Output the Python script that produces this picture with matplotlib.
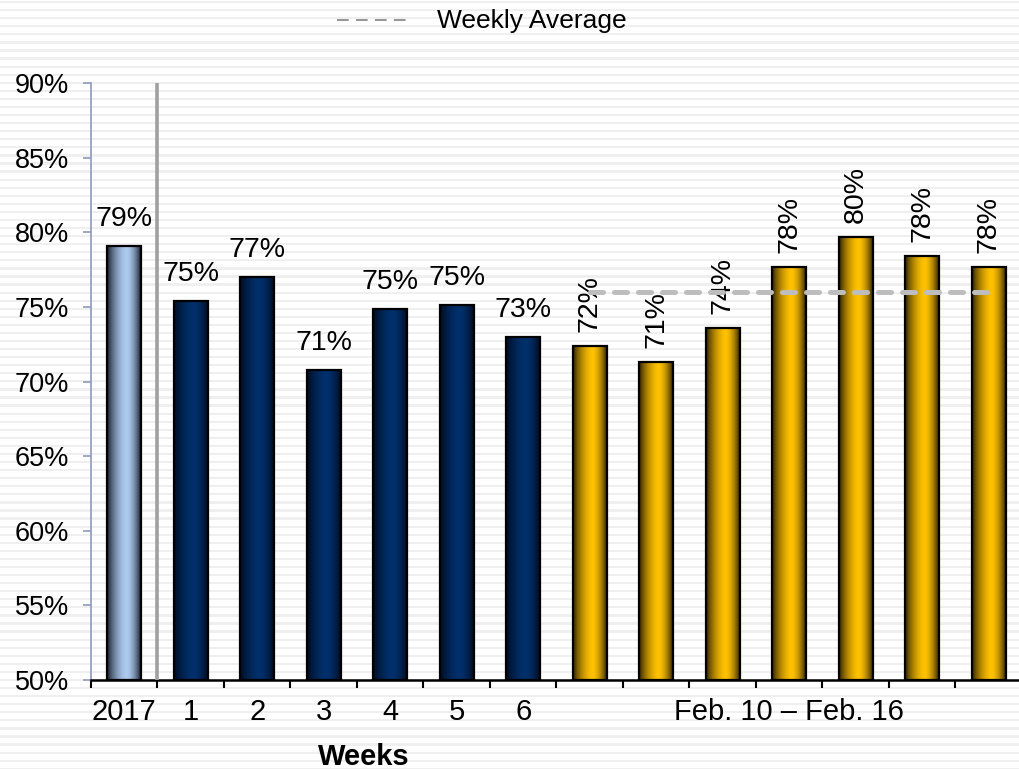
import numpy as np
import matplotlib
matplotlib.use("Agg")
import matplotlib.pyplot as plt
from matplotlib.colors import to_rgb
from matplotlib.lines import Line2D

plt.rcParams['font.family'] = ['Liberation Sans', 'DejaVu Sans']

# ---- data ----
categories = ["2017", "1", "2", "3", "4", "5", "6",
              "g1", "g2", "g3", "g4", "g5", "g6", "g7"]
values = [79.1, 75.4, 77.0, 70.8, 74.85, 75.1, 73.0,
          72.4, 71.3, 73.6, 77.7, 79.7, 78.4, 77.7]
groups = ["year"] + ["week"] * 6 + ["day"] * 7
tick_labels = {0: "2017", 1: "1", 2: "2", 3: "3", 4: "4", 5: "5", 6: "6",
               10: "Feb. 10 \u2013 Feb. 16"}
weekly_average = 76.0
yticks = [50, 55, 60, 65, 70, 75, 80, 85, 90]

center_colors = {"year": "#AECBF0", "week": "#00306C", "day": "#FFC200"}
edge_colors = {"year": "#141A26", "week": "#000A1C", "day": "#2A1E00"}

W, H = 1020, 769
fig = plt.figure(figsize=(W / 100, H / 100), dpi=100, facecolor="white")

# background stripes
bg = fig.add_axes([0, 0, 1, 1], zorder=-10)
bg.set_xlim(0, W)
bg.set_ylim(H, 0)
bg.axis("off")
period = 8.07
y = 1.0
while y < H:
    bg.axhspan(y, y + 2.2, color="#EFEFEF", lw=0)
    y += period

ax = fig.add_axes([91 / W, 1 - 680 / H, 931 / W, (680 - 83) / H], zorder=1)
ax.set_facecolor("none")

x = np.arange(len(categories))
bw = 0.51

def grad_img(group):
    c = np.array(to_rgb(center_colors[group]))
    e = np.array(to_rgb(edge_colors[group]))
    t = np.linspace(0, 1, 200)
    peak = 0.58
    d = np.where(t < peak, (peak - t) / peak, (t - peak) / (1 - peak))
    w = np.clip(1 - d ** 1.6, 0, 1)
    w = w ** 0.9
    img = e[None, :] * (1 - w[:, None]) + c[None, :] * w[:, None]
    return img[None, :, :]

for xi, v, g in zip(x, values, groups):
    ax.imshow(grad_img(g), extent=[xi - bw / 2, xi + bw / 2, 50, v],
              aspect="auto", zorder=2, interpolation="bilinear")
ax.bar(x, np.array(values) - 50, bottom=50, width=bw, fill=False,
       edgecolor="black", linewidth=1.6, zorder=3)

# value labels
for xi, v, g in zip(x, values, groups):
    lab = f"{round(v):d}%"
    if g == "day":
        ax.annotate(lab, (xi, v), xytext=(0, 10), textcoords="offset points",
                    ha="center", va="bottom", rotation=90, fontsize=20.5, zorder=4)
    else:
        ax.annotate(lab, (xi, v), xytext=(0, 10), textcoords="offset points",
                    ha="center", va="bottom", fontsize=20.5, zorder=4)

# weekly average line
day_x = x[np.array(groups) == "day"]
ax.plot([day_x[0], day_x[-1]], [weekly_average, weekly_average],
        color="#BDBDBD", lw=3.6, dashes=(2.6, 2.2), solid_capstyle="round",
        dash_capstyle="round", zorder=5)

# separator line
ax.axvline(0.5, color="#A0A0A0", lw=2.6, zorder=4)

ax.set_xlim(-0.5, len(categories) - 0.5)
ax.set_ylim(50, 90)

ax.set_yticks(yticks)
ax.set_yticklabels([f"{t}%" for t in yticks], fontsize=19.5)
ax.set_xticks(np.arange(-0.5, len(categories) - 1, 1.0))
ax.set_xticklabels([])
ax.set_xticks(list(tick_labels.keys()), minor=True)
ax.set_xticklabels(list(tick_labels.values()), minor=True, fontsize=21)
ax.tick_params(axis="x", which="major", direction="out", length=6, width=1.5,
               color="black")
ax.tick_params(axis="x", which="minor", length=0, pad=13)
ax.tick_params(axis="y", direction="out", length=6, width=1.2,
               color="#8E9ABD", pad=10)

for s in ["top", "right"]:
    ax.spines[s].set_visible(False)
ax.spines["bottom"].set_color("black")
ax.spines["bottom"].set_linewidth(1.8)
ax.spines["left"].set_color("#8E9ABD")
ax.spines["left"].set_linewidth(1.2)

fig.text(364 / W, 1 - 757 / H, "Weeks", ha="center", va="center",
         fontsize=21, fontweight="bold")

# legend
fig.add_artist(Line2D([337 / W, 410 / W], [1 - 20 / H, 1 - 20 / H],
                      transform=fig.transFigure, color="#8C8C8C", lw=1.3,
                      dashes=(6.5, 4)))
fig.text(437 / W, 1 - 21 / H, "Weekly Average", ha="left", va="center",
         fontsize=19)

fig.savefig("out.png", dpi=100, facecolor="white")
